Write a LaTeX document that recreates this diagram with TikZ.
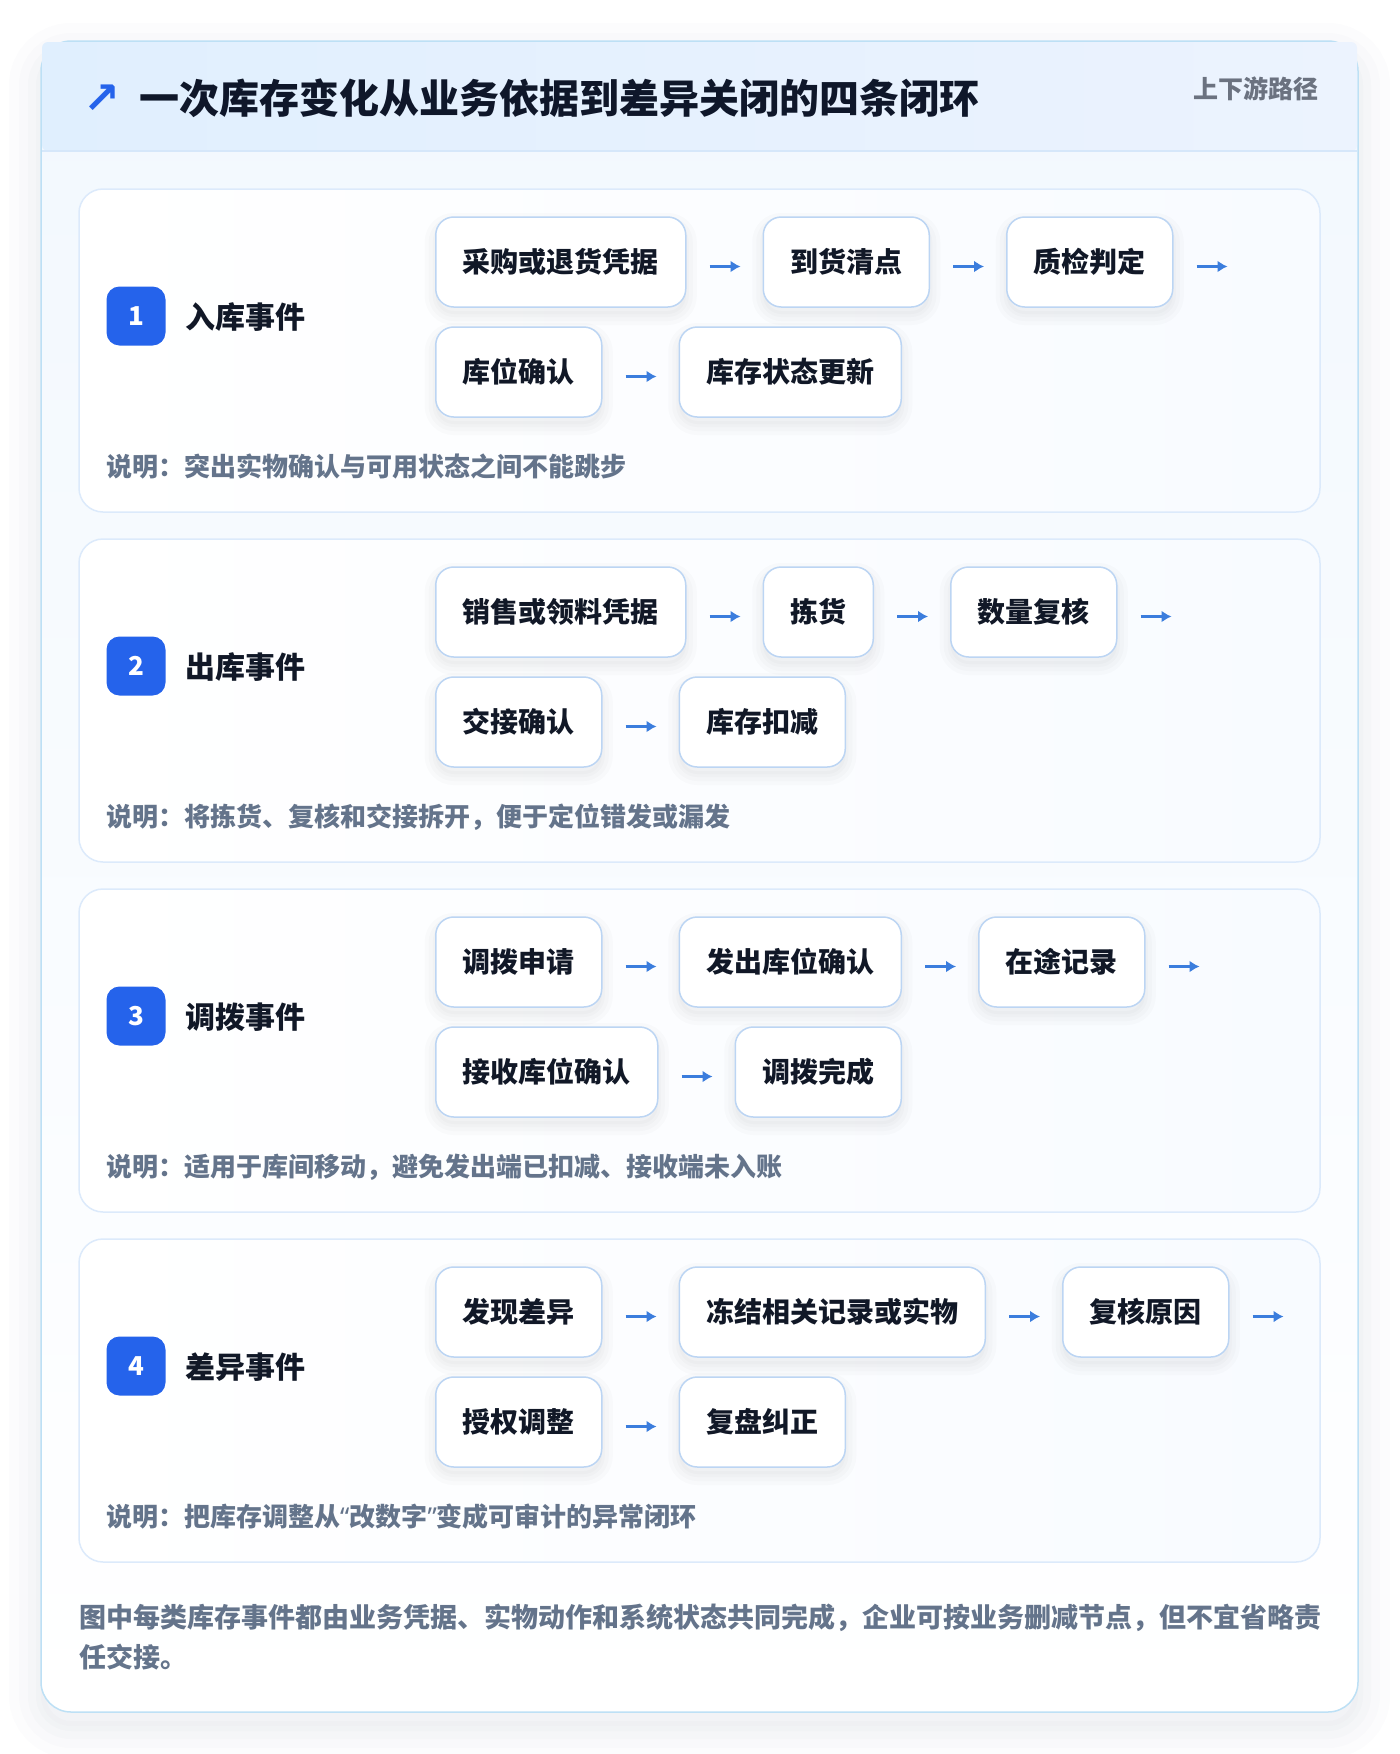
\documentclass[tikz,border=0pt]{standalone}
\usepackage{fontspec}
\setmainfont{Noto Sans CJK SC}
\newfontfamily\dejavu{DejaVu Sans}
\newfontfamily\latinq{Noto Sans}
\usetikzlibrary{positioning,arrows.meta}
\definecolor{ink}{HTML}{111827}
\definecolor{titlec}{HTML}{0F172A}
\definecolor{slate}{HTML}{64748B}
\definecolor{greyc}{HTML}{6B7280}
\definecolor{badgeblue}{HTML}{2563EB}
\definecolor{arrowblue}{HTML}{3B7DDD}
\definecolor{boxline}{HTML}{BCD5F3}
\definecolor{cardline}{HTML}{DCEAFB}
\definecolor{cardR}{HTML}{F8FBFF}
\definecolor{panelline}{HTML}{BDE0F5}
\definecolor{panelbg}{HTML}{F2F8FE}
\definecolor{hdrL}{HTML}{E0EFFE}
\definecolor{hdrR}{HTML}{ECF3FE}
\definecolor{hdrline}{HTML}{D6E7FA}
\definecolor{shadowc}{HTML}{334155}
\tikzset{
  boxshadow/.style={
    preaction={transform canvas={yshift=-7pt}, draw=shadowc, draw opacity=0.018, fill=shadowc, fill opacity=0.018, line width=22pt},
    preaction={transform canvas={yshift=-7pt}, draw=shadowc, draw opacity=0.018, line width=14pt},
    preaction={transform canvas={yshift=-7pt}, draw=shadowc, draw opacity=0.02, line width=6pt}},
  panelshadow/.style={
    preaction={transform canvas={yshift=-14pt}, draw=shadowc, draw opacity=0.012, fill=shadowc, fill opacity=0.012, line width=64pt},
    preaction={transform canvas={yshift=-14pt}, draw=shadowc, draw opacity=0.012, line width=44pt},
    preaction={transform canvas={yshift=-14pt}, draw=shadowc, draw opacity=0.014, line width=26pt},
    preaction={transform canvas={yshift=-14pt}, draw=shadowc, draw opacity=0.016, line width=10pt}},
  card/.style={draw=cardline, line width=1.5pt, rounded corners=24pt, left color=white, right color=cardR},
  badge/.style={fill=badgeblue, rounded corners=13pt, minimum width=59pt, minimum height=59pt, inner sep=0pt, text=white, font=\bfseries\fontsize{26}{26}\selectfont},
  sectitle/.style={anchor=west, inner sep=0pt, text=ink, font=\bfseries\fontsize{30}{36}\selectfont},
  pbox/.style={boxshadow, draw=boxline, line width=1.5pt, fill=white, rounded corners=18pt, minimum height=90pt, inner xsep=27pt, inner ysep=0pt, text=ink, font=\bfseries\fontsize{28}{34}\selectfont},
  flow/.style={draw=arrowblue, line width=2.8pt, -{Latex[length=10pt,width=12pt]}, shorten <=23pt, shorten >=22pt},
  note/.style={anchor=west, inner sep=0pt, text=slate, font=\bfseries\fontsize{26}{32}\selectfont},
  foot/.style={anchor=west, inner sep=0pt, text=slate, font=\bfseries\fontsize{27}{32}\selectfont},
  node distance=76pt
}
\newcommand{\myLQ}{{\latinq\bfseries “}}
\newcommand{\myRQ}{{\latinq\bfseries ”}}
\begin{document}
\begin{tikzpicture}[x=1pt,y=-1pt]
\useasboundingbox (0,0) rectangle (1400,1754);
\fill[white] (0,0) rectangle (1400,1754);
% outer panel
\path[panelshadow, draw=panelline, line width=1.5pt, top color=panelbg, bottom color=white, rounded corners=30pt]
  (41,41) rectangle (1358,1712);
\path[left color=hdrL, right color=hdrR, rounded corners=6pt] (42,42) rectangle (1357,151);
\draw[hdrline, line width=1.5pt] (42,151) -- (1357,151);
\node[text=badgeblue, inner sep=0pt, font=\dejavu\bfseries\fontsize{44}{44}\selectfont] (icon) at (102,99) {↗};
\node[anchor=west, inner sep=0pt, text=titlec, font=\bfseries\fontsize{40}{48}\selectfont] (title) at (139,98) {一次库存变化从业务依据到差异关闭的四条闭环};
\node[anchor=east, inner sep=0pt, text=greyc, font=\bfseries\fontsize{25}{30}\selectfont] (side) at (1319,89) {上下游路径};

% ---------- card 1 ----------
\path[card] (79,189) rectangle (1320,512);
\node[badge] (n1) at (136,316) {1};
\node[sectitle] (t1) at (185,317) {入库事件};
\node[pbox, anchor=west] (a1) at (435,262) {采购或退货凭据};
\node[pbox, right=of a1] (a2) {到货清点};
\node[pbox, right=of a2] (a3) {质检判定};
\coordinate[right=of a3] (a4);
\node[pbox, anchor=west] (a5) at (435,372) {库位确认};
\node[pbox, right=of a5] (a6) {库存状态更新};
\draw[flow] ([yshift=-4.5pt]a1.east) -- ([yshift=-4.5pt]a2.west);
\draw[flow] ([yshift=-4.5pt]a2.east) -- ([yshift=-4.5pt]a3.west);
\draw[flow] ([yshift=-4.5pt]a3.east) -- ([yshift=-4.5pt]a4);
\draw[flow] ([yshift=-4.5pt]a5.east) -- ([yshift=-4.5pt]a6.west);
\node[note] (d1) at (106,467) {说明：突出实物确认与可用状态之间不能跳步};

% ---------- card 2 ----------
\path[card] (79,539) rectangle (1320,862);
\node[badge] (n2) at (136,666) {2};
\node[sectitle] (t2) at (185,667) {出库事件};
\node[pbox, anchor=west] (b1) at (435,612) {销售或领料凭据};
\node[pbox, right=of b1] (b2) {拣货};
\node[pbox, right=of b2] (b3) {数量复核};
\coordinate[right=of b3] (b4);
\node[pbox, anchor=west] (b5) at (435,722) {交接确认};
\node[pbox, right=of b5] (b6) {库存扣减};
\draw[flow] ([yshift=-4.5pt]b1.east) -- ([yshift=-4.5pt]b2.west);
\draw[flow] ([yshift=-4.5pt]b2.east) -- ([yshift=-4.5pt]b3.west);
\draw[flow] ([yshift=-4.5pt]b3.east) -- ([yshift=-4.5pt]b4);
\draw[flow] ([yshift=-4.5pt]b5.east) -- ([yshift=-4.5pt]b6.west);
\node[note] (d2) at (106,817) {说明：将拣货、复核和交接拆开，便于定位错发或漏发};

% ---------- card 3 ----------
\path[card] (79,889) rectangle (1320,1212);
\node[badge] (n3) at (136,1016) {3};
\node[sectitle] (t3) at (185,1017) {调拨事件};
\node[pbox, anchor=west] (c1) at (435,962) {调拨申请};
\node[pbox, right=of c1] (c2) {发出库位确认};
\node[pbox, right=of c2] (c3) {在途记录};
\coordinate[right=of c3] (c4);
\node[pbox, anchor=west] (c5) at (435,1072) {接收库位确认};
\node[pbox, right=of c5] (c6) {调拨完成};
\draw[flow] ([yshift=-4.5pt]c1.east) -- ([yshift=-4.5pt]c2.west);
\draw[flow] ([yshift=-4.5pt]c2.east) -- ([yshift=-4.5pt]c3.west);
\draw[flow] ([yshift=-4.5pt]c3.east) -- ([yshift=-4.5pt]c4);
\draw[flow] ([yshift=-4.5pt]c5.east) -- ([yshift=-4.5pt]c6.west);
\node[note] (d3) at (106,1167) {说明：适用于库间移动，避免发出端已扣减、接收端未入账};

% ---------- card 4 ----------
\path[card] (79,1239) rectangle (1320,1562);
\node[badge] (n4) at (136,1366) {4};
\node[sectitle] (t4) at (185,1367) {差异事件};
\node[pbox, anchor=west] (e1) at (435,1312) {发现差异};
\node[pbox, right=of e1] (e2) {冻结相关记录或实物};
\node[pbox, right=of e2] (e3) {复核原因};
\coordinate[right=of e3] (e4);
\node[pbox, anchor=west] (e5) at (435,1422) {授权调整};
\node[pbox, right=of e5] (e6) {复盘纠正};
\draw[flow] ([yshift=-4.5pt]e1.east) -- ([yshift=-4.5pt]e2.west);
\draw[flow] ([yshift=-4.5pt]e2.east) -- ([yshift=-4.5pt]e3.west);
\draw[flow] ([yshift=-4.5pt]e3.east) -- ([yshift=-4.5pt]e4);
\draw[flow] ([yshift=-4.5pt]e5.east) -- ([yshift=-4.5pt]e6.west);
\node[note] (d4) at (106,1517) {说明：把库存调整从\myLQ 改数字\myRQ 变成可审计的异常闭环};

% ---------- footer ----------
\node[foot] (f1) at (79,1618) {图中每类库存事件都由业务凭据、实物动作和系统状态共同完成，企业可按业务删减节点，但不宜省略责};
\node[foot] (f2) at (79,1657) {任交接。};
\end{tikzpicture}
\end{document}
